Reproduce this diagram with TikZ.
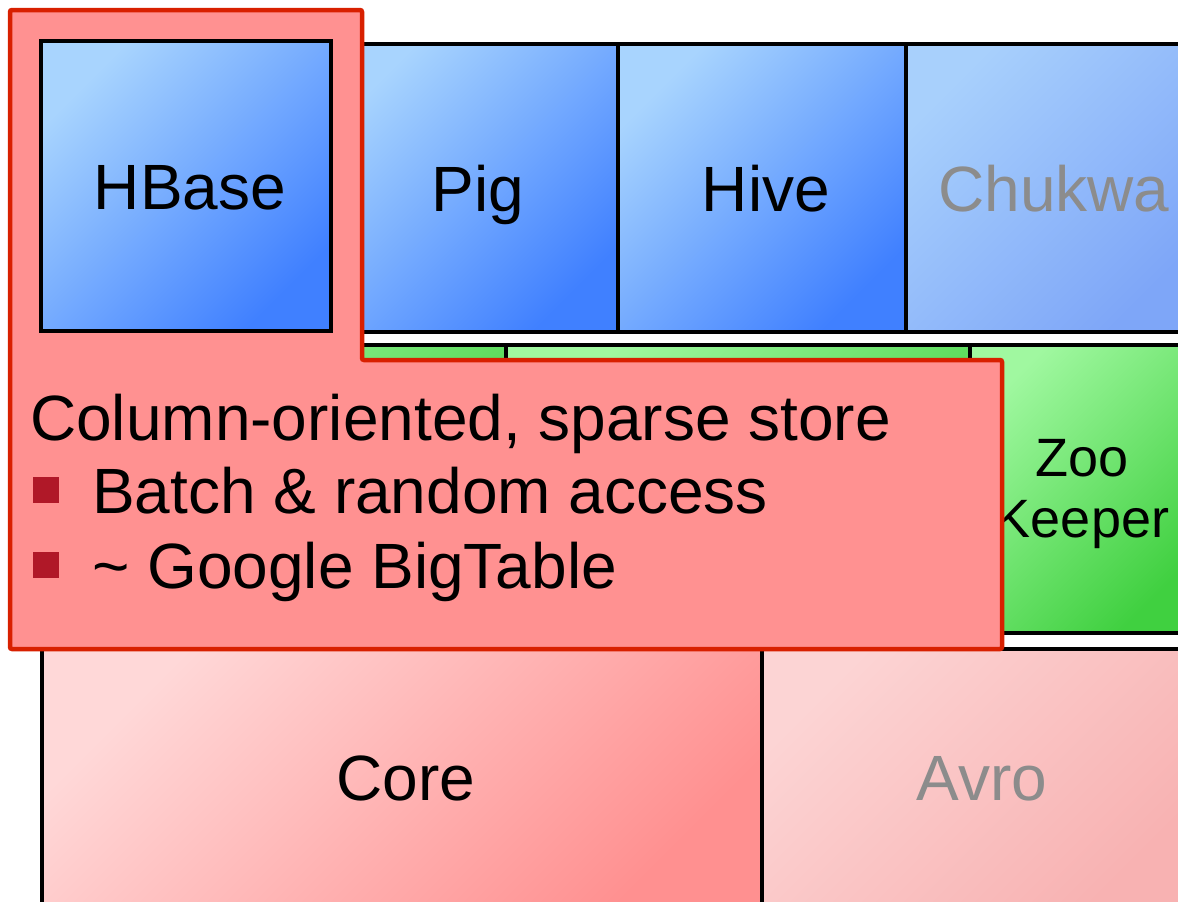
\documentclass[tikz,border=0pt]{standalone}
\usepackage{fontspec}
\setmainfont{Liberation Sans}
\definecolor{bluelt}{HTML}{A8D4FE}
\definecolor{bluemd}{HTML}{78AAFE}
\definecolor{bluedk}{HTML}{4080FF}
\definecolor{chlt}{HTML}{A8D0FC}
\definecolor{chmd}{HTML}{93BBFA}
\definecolor{chdk}{HTML}{7EA6F8}
\definecolor{grlt}{HTML}{A0F8A0}
\definecolor{grmd}{HTML}{70E470}
\definecolor{grdk}{HTML}{40D040}
\definecolor{colt}{HTML}{FFD8D8}
\definecolor{comd}{HTML}{FFB4B4}
\definecolor{codk}{HTML}{FF9090}
\definecolor{avlt}{HTML}{FCD4D4}
\definecolor{avmd}{HTML}{FAC2C2}
\definecolor{avdk}{HTML}{F8B2B2}
\definecolor{calfill}{HTML}{FF9191}
\definecolor{calline}{HTML}{D82000}
\definecolor{bulred}{HTML}{B01828}
\definecolor{fadetext}{HTML}{8C8C8C}
\begin{document}
\begin{tikzpicture}[x=1pt,y=-1pt,
  plainbox/.style={draw=black, line width=3.2pt, minimum width=288pt, minimum height=288pt,
    inner sep=0pt, font=\fontsize{64}{70}\selectfont},
  box/.style={plainbox, text height=46pt, text depth=0pt, execute at begin node={\hspace*{8pt}}},
  diag/.style n args={3}{top color=#1, middle color=#2, bottom color=#3, shading angle=45},
  bluegrad/.style={diag={bluelt}{bluemd}{bluedk}},
  chgrad/.style={diag={chlt}{chmd}{chdk}},
  greengrad/.style={diag={grlt}{grmd}{grdk}},
  coregrad/.style={diag={colt}{comd}{codk}},
  avrograd/.style={diag={avlt}{avmd}{avdk}},
  caltext/.style={anchor=base west, inner sep=0pt, font=\fontsize{64}{73}\selectfont},
  bullet/.style={fill=bulred}
]
\useasboundingbox (0,0) rectangle (1178,902);
\fill[white] (0,0) rectangle (1178,902);

% blue row
\node[box, bluegrad] (blue1) at (186,188) {};
\node[box, bluegrad] (pig) at (474,188) {Pig};
\node[box, bluegrad] (hive) at (762,188) {Hive};
\node[box, chgrad, text=fadetext] (chukwa) at (1050,188) {Chukwa};

% green row
\node[box, greengrad, minimum width=464pt] (green1) at (274,489) {};
\node[box, greengrad, minimum width=464pt] (green2) at (738,489) {};
\node[plainbox, greengrad, minimum width=224pt,
  label={[align=center, inner sep=0pt, font=\fontsize{54}{61}\selectfont, yshift=-5pt]center:{Zoo\\Keeper}}] (zoo) at (1082,489) {};

% pink row
\node[box, coregrad, minimum width=720pt, minimum height=256pt] (core) at (402,777) {Core};
\node[box, avrograd, minimum width=432pt, minimum height=256pt, text=fadetext] (avro) at (978,777) {Avro};

% callout
\draw[line width=4.5pt, draw=calline, fill=calfill, rounded corners=2pt]
  (10,10) -- (362,10) -- (362,360) -- (1002,360) -- (1002,649) -- (10,649) -- cycle;
\node[box, bluegrad, minimum width=290pt, minimum height=290pt] (hbase) at (186,186) {HBase};

\node[caltext] (title) at (30,440) {Column-oriented, sparse store};
\fill[bullet] (33,477) rectangle (59,503);
\node[caltext] (item1) at (92,513) {Batch \& random access};
\fill[bullet] (33,552) rectangle (59,578);
\node[caltext] (item2) at (92,588) {\char`\~{} Google BigTable};
\end{tikzpicture}
\end{document}
